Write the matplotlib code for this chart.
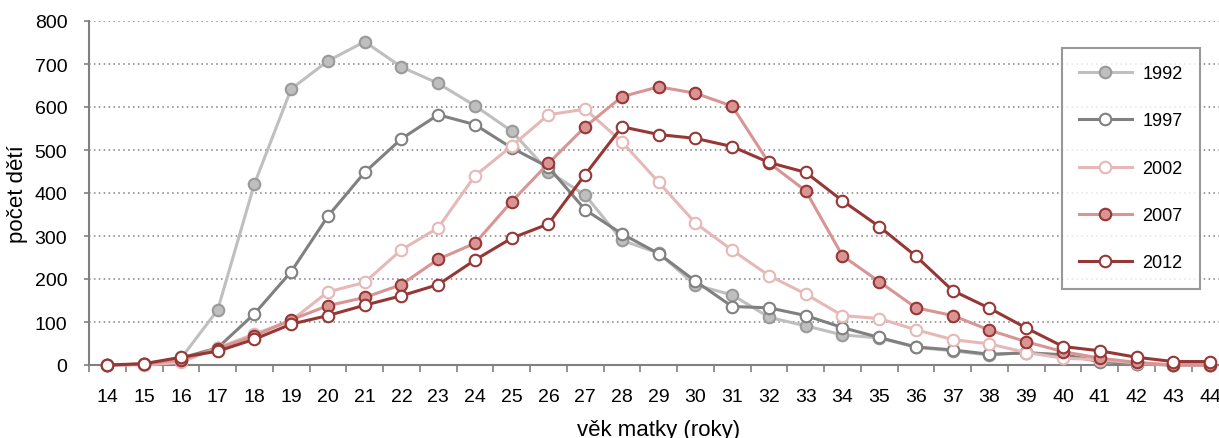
import matplotlib
matplotlib.use("Agg")
import matplotlib.pyplot as plt
from matplotlib.ticker import MultipleLocator, FixedLocator

plt.rcParams['font.family'] = ['Liberation Sans', 'DejaVu Sans']

ages = list(range(14, 45))

y1992 = [0, 2, 15, 128, 421, 642, 707, 752, 693, 655, 603, 544, 450, 395, 290, 260,
         186, 163, 111, 91, 70, 63, 41, 33, 23, 30, 22, 10, 2, 0, 0]
y1997 = [0, 2, 16, 40, 119, 217, 346, 448, 526, 582, 559, 505, 460, 361, 305, 259,
         195, 136, 133, 115, 87, 64, 42, 35, 25, 28, 24, 8, 3, 0, 0]
y2002 = [0, 0, 6, 40, 72, 103, 170, 192, 268, 319, 440, 509, 582, 595, 519, 425,
         330, 267, 208, 165, 115, 108, 82, 59, 49, 29, 16, 12, 5, 0, 0]
y2007 = [0, 2, 12, 38, 68, 105, 138, 157, 187, 246, 283, 380, 469, 554, 624, 647,
         632, 602, 470, 405, 254, 194, 133, 115, 81, 54, 31, 16, 6, 0, 0]
y2012 = [0, 3, 18, 32, 60, 95, 115, 139, 161, 187, 244, 295, 328, 443, 554, 536,
         527, 508, 471, 448, 382, 322, 253, 173, 132, 86, 43, 33, 18, 8, 8]

series = [
    ("1992", y1992, dict(color="#BFBFBF", mfc="#BFBFBF", mec="#9A9A9A")),
    ("1997", y1997, dict(color="#808080", mfc="white", mec="#808080")),
    ("2002", y2002, dict(color="#E6B9B8", mfc="white", mec="#E6B9B8")),
    ("2007", y2007, dict(color="#D99594", mfc="#D99594", mec="#953735")),
    ("2012", y2012, dict(color="#953735", mfc="white", mec="#953735")),
]

fig = plt.figure(figsize=(12.19, 4.39), dpi=100)
ax = fig.add_axes([89 / 1219, 73 / 439, (1228.4 - 89) / 1219, 344 / 439])

for label, vals, st in series:
    ax.plot(ages, vals, marker="o", lw=2.2, ms=8.3, mew=1.5, label=label,
            clip_on=False, **st)

ax.set_xlim(13.5, 44.5)
ax.set_ylim(0, 800)
ax.yaxis.set_major_locator(MultipleLocator(100))
ax.xaxis.set_major_locator(FixedLocator(ages))
ax.xaxis.set_minor_locator(FixedLocator([a + 0.5 for a in range(13, 45)]))

ax.grid(axis="y", which="major", color="#808080", linestyle=(0, (1, 2.2)), lw=1.1)
ax.set_axisbelow(True)

for s in ["top", "right"]:
    ax.spines[s].set_visible(False)
for s in ["left", "bottom"]:
    ax.spines[s].set_color("#808080")
    ax.spines[s].set_linewidth(1.5)
    ax.spines[s].set_zorder(1)

ax.tick_params(axis="x", which="major", length=0, pad=16.5, labelsize=14)
ax.tick_params(axis="x", which="minor", length=5, width=1.2, color="#808080")
ax.tick_params(axis="y", which="major", length=3.6, width=1.2, color="#808080",
               pad=12, labelsize=14)

ax.set_ylabel("počet dětí", fontsize=16, labelpad=5)
ax.set_xlabel("věk matky (roky)", fontsize=16, labelpad=10)

leg = ax.legend(loc="upper left", bbox_to_anchor=(1062 / 1219, 1 - 49 / 439),
                bbox_transform=fig.transFigure, fontsize=13, frameon=True,
                fancybox=False, edgecolor="#808080", handlelength=2.9,
                handletextpad=0.6, labelspacing=1.68, borderpad=0.95,
                borderaxespad=0)
leg.get_frame().set_linewidth(1.5)

fig.savefig("out.png", dpi=100)
